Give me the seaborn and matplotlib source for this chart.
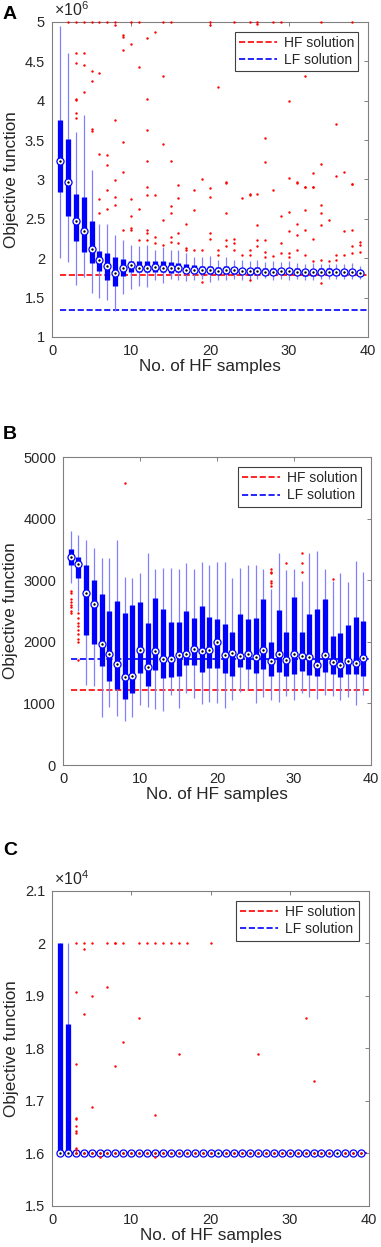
import numpy as np
import pandas as pd
import matplotlib
matplotlib.use("Agg")
import matplotlib.pyplot as plt
import seaborn as sns
from matplotlib.ticker import FuncFormatter

samples = list(range(1, 40))
line_x = [1, 40]

# ---- Panel A (values in units of 1e6) ----
a_med = [3.23, 2.97, 2.47, 2.35, 2.12, 1.98, 1.90, 1.81, 1.88, 1.91, 1.87, 1.88, 1.89, 1.88, 1.88, 1.88, 1.85, 1.85, 1.85, 1.85,
         1.84, 1.85, 1.85, 1.84, 1.84, 1.84, 1.83, 1.83, 1.84, 1.84, 1.83, 1.82, 1.82, 1.83, 1.83, 1.83, 1.82, 1.83, 1.81]
a_q1 = [2.84, 2.54, 2.22, 2.08, 1.94, 1.84, 1.72, 1.65, 1.77, 1.83, 1.82, 1.82, 1.82, 1.82, 1.81, 1.82, 1.81, 1.81, 1.80, 1.80,
        1.80, 1.80, 1.80, 1.80, 1.79, 1.80, 1.79, 1.79, 1.80, 1.80, 1.79, 1.78, 1.78, 1.79, 1.79, 1.79, 1.78, 1.79, 1.78]
a_q3 = [3.75, 3.51, 2.82, 2.78, 2.47, 2.09, 2.06, 2.01, 1.99, 1.97, 1.97, 1.97, 1.97, 1.97, 1.95, 1.94, 1.92, 1.91, 1.90, 1.90,
        1.89, 1.90, 1.89, 1.88, 1.88, 1.89, 1.87, 1.88, 1.88, 1.88, 1.87, 1.86, 1.86, 1.87, 1.87, 1.86, 1.86, 1.86, 1.85]
a_lo = [2.00, 1.95, 1.66, 1.76, 1.56, 1.50, 1.47, 1.33, 1.54, 1.61, 1.65, 1.64, 1.72, 1.68, 1.74, 1.72, 1.71, 1.72, 1.74, 1.70,
        1.72, 1.72, 1.73, 1.72, 1.71, 1.73, 1.75, 1.72, 1.73, 1.72, 1.73, 1.72, 1.72, 1.73, 1.73, 1.74, 1.73, 1.73, 1.74]
a_hi = [4.95, 4.60, 3.60, 3.82, 3.12, 2.44, 2.44, 2.30, 2.23, 2.17, 2.16, 2.17, 2.11, 2.14, 2.11, 2.10, 2.07, 2.02, 2.01, 2.03,
        1.98, 2.02, 1.98, 1.98, 1.96, 1.98, 1.95, 1.96, 1.95, 1.96, 1.94, 1.93, 1.94, 1.93, 1.93, 1.92, 1.93, 1.94, 1.90]
a_hf = 1.79
a_lf = 1.345
outA_n = [2, 3, 4, 5, 6, 7, 8, 10, 11, 14, 15, 20, 23, 25, 26, 28, 29, 34, 38,
          8, 9, 9, 9, 10, 11, 12, 13, 14, 20, 26, 21, 32, 30,
          3, 3, 4, 4, 5, 5, 6, 3, 3, 4, 3, 3, 5, 5, 8, 12, 12, 14, 15, 12, 9, 9, 8, 7, 7,
          27, 27, 36, 34, 37, 36, 38, 19, 33, 30, 31, 22, 32, 33, 6,
          6, 6, 7, 7, 8, 8, 9, 10, 10, 10, 10, 11, 11, 12, 12, 12, 12, 12, 13, 13, 13, 14, 14,
          15, 15, 15, 15, 16, 16, 16, 16, 17, 17, 17, 18, 18, 18, 19, 19, 20, 20, 20, 20, 21, 21,
          22, 22, 22, 22, 23, 23, 23, 24, 24, 25, 25, 25, 25, 25, 26, 26, 26, 26, 27, 27, 27,
          28, 28, 29, 29, 29, 30, 30, 30, 30, 31, 31, 31, 31, 32, 32, 32, 32, 33, 33, 33,
          34, 34, 34, 34, 34, 35, 35, 36, 36, 37, 37, 38, 38, 38, 38, 39, 39, 39]
outA_v = [5.0, 5.0, 5.0, 5.0, 5.0, 5.0, 5.0, 5.0, 5.0, 5.0, 5.0, 5.0, 5.0, 5.0, 5.0, 5.0, 5.0, 5.0, 5.0,
          4.96, 4.84, 4.81, 4.64, 4.72, 4.43, 4.79, 4.87, 4.31, 4.96, 4.97, 4.17, 4.31, 3.99,
          4.60, 4.48, 4.60, 4.45, 4.38, 4.25, 4.35, 4.01, 4.02, 4.11, 3.84, 3.78, 3.64, 3.62, 3.75, 4.02, 3.63, 3.45, 3.24, 3.24, 3.48, 3.10, 2.99, 3.31, 3.18,
          3.52, 3.22, 3.71, 3.20, 3.10, 3.04, 2.94, 3.01, 3.08, 3.02, 2.96, 2.96, 2.90, 2.90, 3.32,
          2.75, 2.57, 2.87, 2.63, 2.78, 2.68, 2.36, 2.38, 2.36, 2.53, 2.75, 2.63, 2.23, 2.91, 2.80, 2.36, 2.32, 2.23, 2.80, 2.19, 2.27, 2.48, 2.17,
          2.66, 2.57, 2.27, 2.21, 2.76, 2.93, 2.32, 2.19, 2.44, 2.13, 2.10, 2.87, 2.61, 2.10, 2.10, 1.70, 2.89, 2.78, 2.32, 2.24, 2.11, 2.04,
          2.97, 2.57, 2.23, 2.15, 2.25, 2.19, 2.10, 2.76, 2.04, 2.82, 2.80, 2.10, 2.04, 1.72, 2.81, 2.42, 2.23, 2.15, 2.23, 2.08, 2.02,
          2.86, 2.03, 2.54, 2.19, 2.07, 2.59, 2.34, 2.06, 2.02, 2.97, 2.44, 2.30, 2.10, 2.91, 2.61, 2.36, 2.04, 2.91, 2.24, 1.96,
          2.68, 2.57, 2.42, 1.98, 1.68, 2.49, 1.96, 1.98, 2.04, 2.34, 2.04, 2.94, 2.36, 2.16, 2.06, 2.21, 2.17, 2.08]

# ---- Panel B ----
b_med = [3380, 3260, 2800, 2610, 1960, 1795, 1635, 1425, 1445, 1865, 1595, 1855, 1725, 1725, 1790, 1795, 1890, 1845, 1870, 1990,
         1780, 1825, 1775, 1810, 1760, 1865, 1685, 1805, 1710, 1810, 1770, 1750, 1625, 1780, 1675, 1625, 1690, 1650, 1730]
b_q1 = [3250, 3030, 2110, 1965, 1610, 1365, 1235, 1080, 1175, 1500, 1285, 1540, 1415, 1435, 1450, 1625, 1625, 1515, 1580, 1570,
        1500, 1450, 1585, 1555, 1490, 1560, 1445, 1515, 1445, 1470, 1530, 1465, 1445, 1505, 1475, 1425, 1475, 1470, 1445]
b_q3 = [3505, 3380, 3245, 3000, 2775, 2500, 2665, 2470, 2595, 2645, 2300, 2705, 2530, 2325, 2325, 2505, 2380, 2580, 2395, 2365,
        2295, 2165, 2450, 2370, 2380, 2695, 2005, 2515, 2165, 2725, 2155, 2450, 2525, 2690, 2095, 2150, 2270, 2395, 2335]
b_lo = [2950, 2500, 1300, 1290, 775, 935, 800, 715, 785, 975, 945, 905, 880, 1135, 920, 1165, 1090, 985, 1030, 1010,
        930, 1055, 1190, 1235, 1010, 1110, 1055, 1030, 1120, 1055, 1175, 1100, 1080, 1130, 1120, 1055, 1110, 975, 1135]
b_hi = [3800, 3730, 3650, 3520, 3365, 3360, 3650, 3045, 3030, 3120, 3450, 3190, 3200, 3200, 3175, 3275, 3175, 3290, 3245, 3290,
        3290, 3030, 3200, 3255, 3255, 3180, 2860, 3450, 3165, 3190, 2990, 3450, 3480, 3180, 2980, 3125, 2975, 3315, 3140]
b_hf = 1220
b_lf = 1725
outB_n = [1, 1, 1, 1, 1, 1, 1, 1, 2, 2, 2, 2, 2, 2, 2, 2, 2, 8, 27, 27, 27, 27, 27, 27, 29, 31, 31, 31, 35]
outB_v = [2830, 2800, 2700, 2650, 2600, 2560, 2500, 2460, 2460, 2380, 2300, 2250, 2200, 2120, 2040, 1990, 1700, 4580,
          3180, 3140, 3120, 2980, 2950, 2910, 3285, 3445, 3275, 3140, 3025]

# ---- Panel C (values in units of 1e4) ----
c_med = [1.6, 1.6, 1.6, 1.6, 1.6, 1.6, 1.6, 1.6, 1.6, 1.6, 1.6, 1.6, 1.6, 1.6, 1.6, 1.6, 1.6, 1.6, 1.6, 1.6,
         1.6, 1.6, 1.6, 1.6, 1.6, 1.6, 1.6, 1.6, 1.6, 1.6, 1.6, 1.6, 1.6, 1.6, 1.6, 1.6, 1.6, 1.6, 1.6]
c_q1 = [1.6, 1.6, 1.6, 1.6, 1.6, 1.6, 1.6, 1.6, 1.6, 1.6, 1.6, 1.6, 1.6, 1.6, 1.6, 1.6, 1.6, 1.6, 1.6, 1.6,
        1.6, 1.6, 1.6, 1.6, 1.6, 1.6, 1.6, 1.6, 1.6, 1.6, 1.6, 1.6, 1.6, 1.6, 1.6, 1.6, 1.6, 1.6, 1.6]
c_q3 = [2.0, 1.847, 1.6, 1.6, 1.6, 1.6, 1.6, 1.6, 1.6, 1.6, 1.6, 1.6, 1.6, 1.6, 1.6, 1.6, 1.6, 1.6, 1.6, 1.6,
        1.6, 1.6, 1.6, 1.6, 1.6, 1.6, 1.6, 1.6, 1.6, 1.6, 1.6, 1.6, 1.6, 1.6, 1.6, 1.6, 1.6, 1.6, 1.6]
c_lo = [1.6, 1.6, 1.6, 1.6, 1.6, 1.6, 1.6, 1.6, 1.6, 1.6, 1.6, 1.6, 1.6, 1.6, 1.6, 1.6, 1.6, 1.6, 1.6, 1.6,
        1.6, 1.6, 1.6, 1.6, 1.6, 1.6, 1.6, 1.6, 1.6, 1.6, 1.6, 1.6, 1.6, 1.6, 1.6, 1.6, 1.6, 1.6, 1.6]
c_hi = [2.0, 2.0, 1.6, 1.6, 1.6, 1.6, 1.6, 1.6, 1.6, 1.6, 1.6, 1.6, 1.6, 1.6, 1.6, 1.6, 1.6, 1.6, 1.6, 1.6,
        1.6, 1.6, 1.6, 1.6, 1.6, 1.6, 1.6, 1.6, 1.6, 1.6, 1.6, 1.6, 1.6, 1.6, 1.6, 1.6, 1.6, 1.6, 1.6]
c_hf = 1.6
c_lf = 1.6
outC_n = [3, 4, 5, 7, 8, 8, 9, 11, 12, 13, 14, 15, 16, 17, 20,
          4, 3, 5, 7, 4, 11, 32, 9, 16, 26, 3, 8, 33, 5, 13, 3, 3, 3, 3, 3, 6, 13, 3, 3]
outC_v = [2.0, 2.0, 2.0, 2.0, 2.0, 2.0, 2.0, 2.0, 2.0, 2.0, 2.0, 2.0, 2.0, 2.0, 2.0,
          1.989, 1.907, 1.90, 1.917, 1.866, 1.859, 1.858, 1.812, 1.789, 1.789, 1.770, 1.767, 1.738, 1.689, 1.673,
          1.668, 1.665, 1.652, 1.642, 1.639, 1.593, 1.594, 1.610, 1.607]
# outliers that sit exactly on the median (drawn as red centre dots)
outC_on_median = [3, 4, 5, 6, 7, 8, 9, 10, 11, 12, 13, 14, 15, 16, 17, 18, 19, 20,
                  22, 23, 24, 25, 26, 27, 28, 29, 30, 31, 32, 33, 34, 35, 37, 38, 39]

sns.set_theme(style="white")
plt.rcParams["font.family"] = ["Liberation Sans", "DejaVu Sans"]
plt.rcParams["mathtext.default"] = "regular"

BLUE = "#0000ff"
WHISK = "#8080ff"
RED = "#ff0000"
TXT = "#262626"


def draw_panel(ax, med, q1, q3, lo, hi, out_n, out_v, hf, lf, scale):
    x = np.array(samples)
    df = pd.DataFrame({"n": x, "med": np.array(med) * scale, "q1": np.array(q1) * scale,
                       "q3": np.array(q3) * scale, "lo": np.array(lo) * scale, "hi": np.array(hi) * scale})
    ax.plot(line_x, [hf * scale, hf * scale], color=RED, ls="--", lw=1.2, label="HF solution", zorder=1)
    ax.plot(line_x, [lf * scale, lf * scale], color=BLUE, ls="--", lw=1.2, label="LF solution", zorder=1)
    ax.vlines(df["n"], df["lo"], df["hi"], colors=WHISK, lw=0.9, zorder=2, capstyle="butt")
    ax.vlines(df["n"], df["q1"], df["q3"], colors=BLUE, lw=3.8, zorder=3, capstyle="butt")
    sns.scatterplot(data=df, x="n", y="med", ax=ax, s=26, color="white", edgecolor=BLUE,
                    linewidth=0.9, zorder=4, legend=False)
    sns.scatterplot(data=df, x="n", y="med", ax=ax, s=3, color="black", linewidth=0,
                    zorder=5, legend=False)
    sns.scatterplot(x=np.array(out_n), y=np.array(out_v) * scale, ax=ax, s=3, color=RED,
                    linewidth=0, zorder=6, legend=False, clip_on=False)


def style_axes(ax, ylim, yticks, scale, expo=None):
    ax.set_xlim(0, 40)
    ax.set_xticks([0, 10, 20, 30, 40])
    ax.set_ylim(ylim[0] * scale, ylim[1] * scale)
    ax.set_yticks([t * scale for t in yticks])
    ax.yaxis.set_major_formatter(FuncFormatter(lambda v, p: f"{v / scale:g}"))
    ax.tick_params(direction="in", length=3, width=0.7, top=True, right=True,
                   labelsize=10.5, colors="#808080", labelcolor=TXT, pad=5)
    for sp in ax.spines.values():
        sp.set_color("#808080")
        sp.set_linewidth(0.8)
    ax.set_xlabel("No. of HF samples", fontsize=12.3, color=TXT, labelpad=1)
    ax.set_ylabel("Objective function", fontsize=12.3, color=TXT, labelpad=4)
    leg = ax.legend(loc="upper right", fontsize=10, handlelength=2.7, handletextpad=0.5,
                    borderpad=0.3, labelspacing=0.25, borderaxespad=0.7, fancybox=False,
                    framealpha=1, edgecolor="#404040")
    leg.get_frame().set_linewidth(0.8)
    for t in leg.get_texts():
        t.set_color(TXT)
    if expo is not None:
        ax.text(0.005, 1.008, r"$\times10^{%d}$" % expo, transform=ax.transAxes,
                fontsize=11.5, color=TXT, ha="left", va="bottom")


fig = plt.figure(figsize=(3.81, 12.47), dpi=100)
axA = fig.add_axes([0.1365, 0.7298, 0.8294, 0.2526])
axB = fig.add_axes([0.1654, 0.3865, 0.8084, 0.2470])
axC = fig.add_axes([0.1365, 0.0329, 0.8320, 0.2526])

draw_panel(axA, a_med, a_q1, a_q3, a_lo, a_hi, outA_n, outA_v, a_hf, a_lf, 1e6)
style_axes(axA, (1, 5), [1, 1.5, 2, 2.5, 3, 3.5, 4, 4.5, 5], 1e6, expo=6)

draw_panel(axB, b_med, b_q1, b_q3, b_lo, b_hi, outB_n, outB_v, b_hf, b_lf, 1)
style_axes(axB, (0, 5000), [0, 1000, 2000, 3000, 4000, 5000], 1)

draw_panel(axC, c_med, c_q1, c_q3, c_lo, c_hi, outC_n, outC_v, c_hf, c_lf, 1e4)
sns.scatterplot(x=np.array(outC_on_median), y=np.array([c_med[n - 1] for n in outC_on_median]) * 1e4,
                ax=axC, s=3, color=RED, linewidth=0, zorder=6, legend=False)
style_axes(axC, (1.5, 2.1), [1.5, 1.6, 1.7, 1.8, 1.9, 2.0, 2.1], 1e4, expo=4)

for lab, ytop in [("A", 1 - 6 / 1247), ("B", 1 - 426 / 1247), ("C", 1 - 842 / 1247)]:
    fig.text(3 / 381, ytop, lab, fontsize=14, fontweight="bold", color="black", ha="left", va="top")

fig.savefig("out.png", dpi=100)
